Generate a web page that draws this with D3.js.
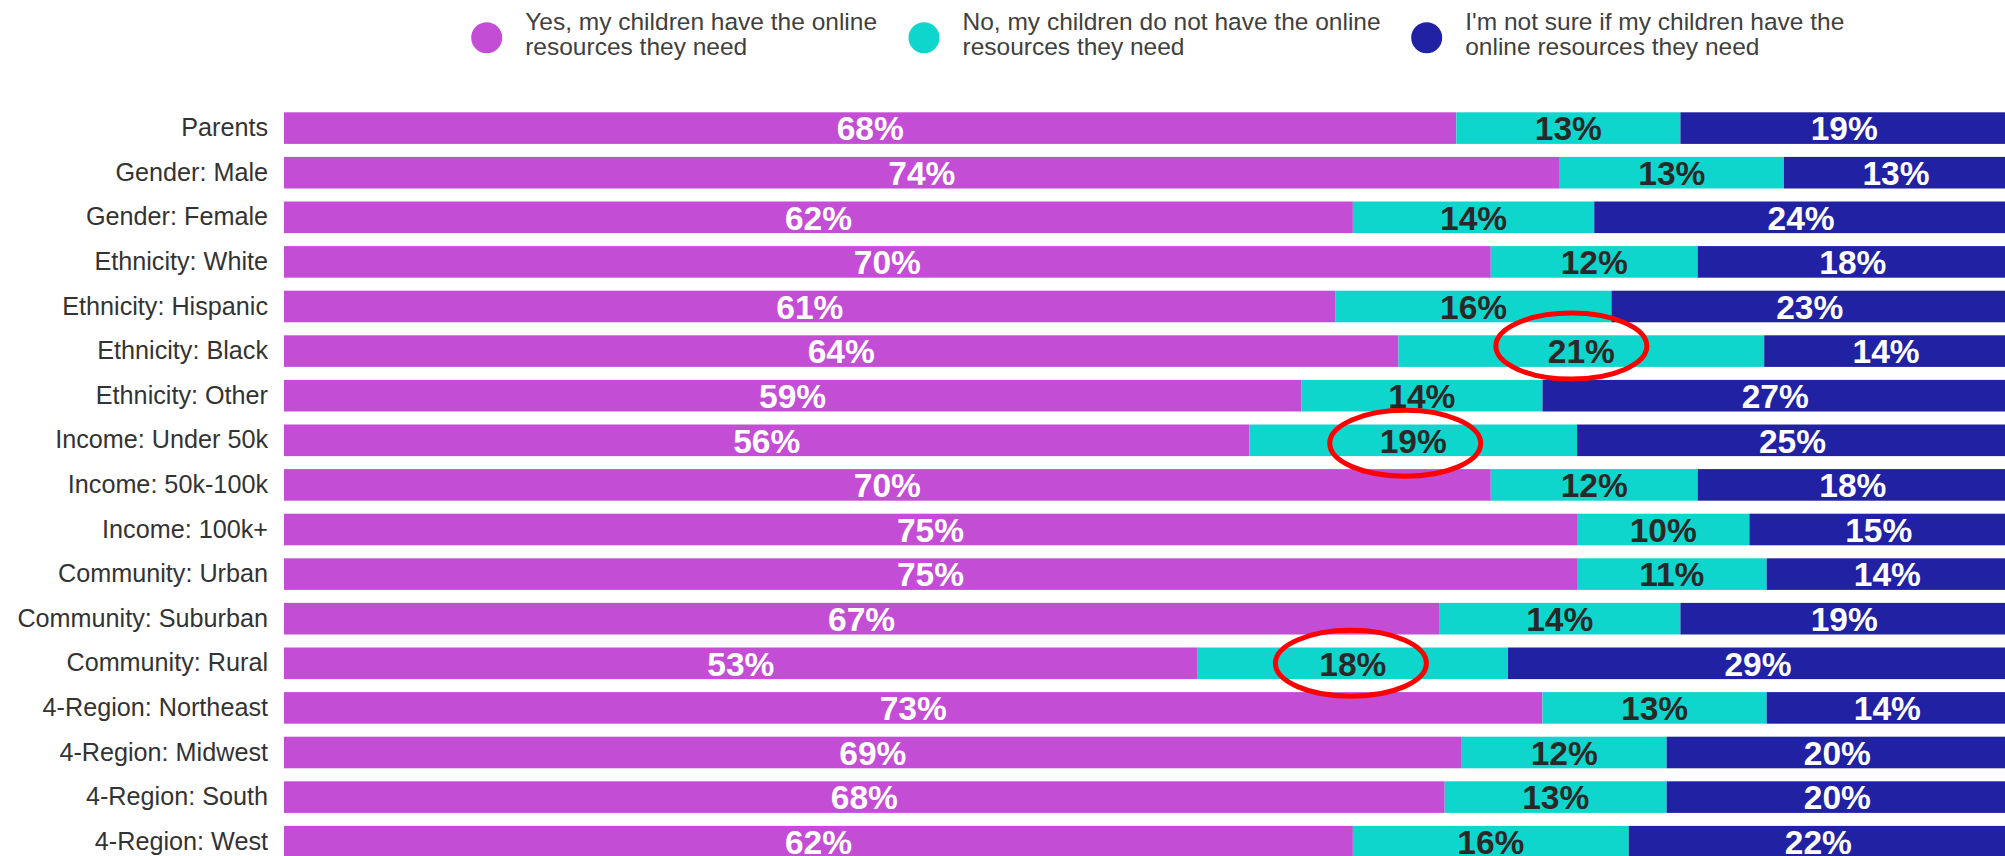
<!DOCTYPE html>
<html>
<head>
<meta charset="utf-8">
<script src="https://cdn.jsdelivr.net/npm/d3@7"></script>
<style>
  html, body { margin: 0; padding: 0; background: #fff; overflow: hidden; }
  svg { display: block; font-family: "Liberation Sans", Arial, Helvetica, sans-serif; }
</style>
</head>
<body>
<svg id="chart" width="2005" height="856"></svg>
<script>
// Survey groups, top to bottom
const categories = [
  "Parents",
  "Gender: Male",
  "Gender: Female",
  "Ethnicity: White",
  "Ethnicity: Hispanic",
  "Ethnicity: Black",
  "Ethnicity: Other",
  "Income: Under 50k",
  "Income: 50k-100k",
  "Income: 100k+",
  "Community: Urban",
  "Community: Suburban",
  "Community: Rural",
  "4-Region: Northeast",
  "4-Region: Midwest",
  "4-Region: South",
  "4-Region: West"
];

// Share of answers (%) per group
const yesValues    = [68, 74, 62, 70, 61, 64, 59, 56, 70, 75, 75, 67, 53, 73, 69, 68, 62];
const noValues     = [13, 13, 14, 12, 16, 21, 14, 19, 12, 10, 11, 14, 18, 13, 12, 13, 16];
const unsureValues = [19, 13, 24, 18, 23, 14, 27, 25, 18, 15, 14, 19, 29, 14, 20, 20, 22];

const seriesKeys = ["yes", "no", "unsure"];
const legendLabels = [
  ["Yes, my children have the online", "resources they need"],
  ["No, my children do not have the online", "resources they need"],
  ["I'm not sure if my children have the", "online resources they need"]
];

// Groups whose "No" share is circled
const circledGroups = ["Ethnicity: Black", "Income: Under 50k", "Community: Rural"];

const colors = { yes: "#C44DD6", no: "#0FD6CC", unsure: "#2121A3" };
const valueTextColors = { yes: "#ffffff", no: "#282828", unsure: "#ffffff" };

const rows = categories.map((c, i) => ({
  category: c, yes: yesValues[i], no: noValues[i], unsure: unsureValues[i]
}));

const svg = d3.select("#chart");

const x = d3.scaleLinear().domain([0, 1]).range([284, 2008]);
const y = d3.scaleBand()
  .domain(categories)
  .range([112.3, 857.5])
  .paddingInner(0.2915)
  .paddingOuter(0);

// 100% stacked shares
const stacked = d3.stack().keys(seriesKeys).offset(d3.stackOffsetExpand)(rows);

const layers = svg.append("g").selectAll("g.layer")
  .data(stacked)
  .join("g")
  .attr("class", "layer")
  .attr("fill", d => colors[d.key]);

layers.selectAll("rect")
  .data(d => d.map(s => ({ s, key: d.key })))
  .join("rect")
  .attr("x", d => x(d.s[0]))
  .attr("y", d => y(d.s.data.category))
  .attr("width", d => x(d.s[1]) - x(d.s[0]))
  .attr("height", y.bandwidth());

// Value labels centred in each segment
layers.selectAll("text")
  .data(d => d.map(s => ({ s, key: d.key })))
  .join("text")
  .attr("x", d => x((d.s[0] + d.s[1]) / 2))
  .attr("y", d => y(d.s.data.category) + y.bandwidth() / 2)
  .attr("dy", "0.37em")
  .attr("text-anchor", "middle")
  .attr("font-size", 33.5)
  .attr("font-weight", "bold")
  .attr("fill", d => valueTextColors[d.key])
  .text(d => d.s.data[d.key] + "%");

// Category axis
const yAxis = svg.append("g")
  .attr("transform", `translate(${x(0)},0)`)
  .call(d3.axisLeft(y).tickSize(0).tickPadding(16));
yAxis.select(".domain").remove();
yAxis.selectAll("text")
  .attr("font-size", 25.2)
  .attr("font-family", "'Liberation Sans', Arial, sans-serif")
  .attr("fill", "#333333");

// Red rings around the highlighted "No" values (hand-drawn, slightly off-centre)
const ringNudge = {
  "Ethnicity: Black": [-10, -5],
  "Income: Under 50k": [-8, 3],
  "Community: Rural": [-2, 0]
};
const noLayer = stacked.find(l => l.key === "no");
svg.append("g").selectAll("ellipse")
  .data(noLayer.filter(s => circledGroups.includes(s.data.category)))
  .join("ellipse")
  .attr("cx", s => x((s[0] + s[1]) / 2) + ringNudge[s.data.category][0])
  .attr("cy", s => y(s.data.category) + y.bandwidth() / 2 + ringNudge[s.data.category][1])
  .attr("rx", 75.5)
  .attr("ry", 33)
  .attr("fill", "none")
  .attr("stroke", "#FF0000")
  .attr("stroke-width", 5);

// Legend
const legendX = [486.7, 924, 1426.7];
const legend = svg.append("g").selectAll("g")
  .data(seriesKeys)
  .join("g")
  .attr("transform", (d, i) => `translate(${legendX[i]},0)`);

legend.append("circle")
  .attr("cx", 0)
  .attr("cy", 37.7)
  .attr("r", 15.5)
  .attr("fill", d => colors[d]);

const legendText = legend.append("text")
  .attr("font-size", 24.5)
  .attr("fill", "#404040");
legendText.selectAll("tspan")
  .data((d, i) => legendLabels[i])
  .join("tspan")
  .attr("x", 38.5)
  .attr("y", (d, j) => 29.5 + j * 25.9)
  .text(d => d);
</script>
</body>
</html>
